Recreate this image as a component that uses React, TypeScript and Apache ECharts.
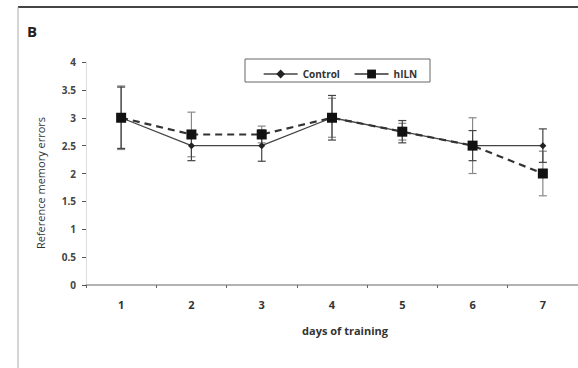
import React, { useEffect, useRef } from "react";
import * as echarts from "echarts";

const days = ["1", "2", "3", "4", "5", "6", "7"];
const controlValues = [3.0, 2.5, 2.5, 3.0, 2.75, 2.5, 2.5];
const hilnValues = [3.0, 2.7, 2.7, 3.0, 2.75, 2.5, 2.0];
const controlErr = [0.55, 0.27, 0.28, 0.4, 0.2, 0.27, 0.3];
const hilnErr = [0.57, 0.4, 0.15, 0.35, 0.15, 0.5, 0.4];
const yTicks = [0, 0.5, 1, 1.5, 2, 2.5, 3, 3.5, 4];

const FONT = "'Open Sans', 'Liberation Sans', sans-serif";

function errData(vals: number[], errs: number[]) {
  return vals.map((v, i) => [i, v - errs[i], v + errs[i]]);
}

function errSeries(name: string, vals: number[], errs: number[], color: string) {
  return {
    type: "custom",
    name: name + " err",
    data: errData(vals, errs),
    encode: { x: 0, y: [1, 2] },
    z: 1,
    silent: true,
    renderItem: (params: any, api: any) => {
      const x = api.value(0);
      const lo = api.coord([x, api.value(1)]);
      const hi = api.coord([x, api.value(2)]);
      const cw = 4;
      const style = { stroke: color, lineWidth: 1.2 };
      return {
        type: "group",
        children: [
          { type: "line", shape: { x1: lo[0], y1: lo[1], x2: hi[0], y2: hi[1] }, style },
          { type: "line", shape: { x1: lo[0] - cw, y1: lo[1], x2: lo[0] + cw, y2: lo[1] }, style },
          { type: "line", shape: { x1: hi[0] - cw, y1: hi[1], x2: hi[0] + cw, y2: hi[1] }, style },
        ],
      };
    },
  };
}

export default function App() {
  const ref = useRef<HTMLDivElement>(null);
  useEffect(() => {
    if (!ref.current) return;
    const chart = echarts.init(ref.current, null, { renderer: "svg" });
    chart.setOption({
      animation: false,
      backgroundColor: "#ffffff",
      textStyle: { fontFamily: FONT },
      grid: { left: 86, right: -4, top: 62, bottom: 83, containLabel: false },
      legend: {
        left: 258,
        top: 64,
        itemWidth: 34,
        itemHeight: 11,
        itemGap: 14,
        textStyle: { fontSize: 10, fontWeight: "bold", color: "#333", fontFamily: FONT },
        data: [
          { name: "Control", lineStyle: { type: "solid", width: 1.3 } },
          { name: "hILN", lineStyle: { type: "solid", width: 1.3 } },
        ],
      },
      xAxis: {
        type: "category",
        data: days,
        boundaryGap: true,
        axisLine: { lineStyle: { color: "#999", width: 1.5 } },
        axisTick: { show: true, length: 3, lineStyle: { color: "#666" } },
        axisLabel: { fontSize: 11, fontWeight: "bold", color: "#333", margin: 14, fontFamily: FONT },
      },
      yAxis: {
        type: "value",
        min: 0,
        max: 4,
        interval: 0.5,
        splitLine: { show: false },
        axisLine: { show: true, lineStyle: { color: "#ddd", width: 1 } },
        axisTick: { show: true, length: 4, lineStyle: { color: "#555" } },
        axisLabel: {
          fontSize: 10,
          fontWeight: "bold",
          color: "#444",
          margin: 10,
          fontFamily: FONT,
          formatter: (v: number) => (yTicks.includes(v) ? String(v) : ""),
        },
      },
      series: [
        errSeries("hILN", hilnValues, hilnErr, "#888"),
        errSeries("Control", controlValues, controlErr, "#444"),
        {
          name: "Control",
          type: "line",
          data: controlValues,
          symbol: "diamond",
          symbolSize: 7,
          z: 3,
          itemStyle: { color: "#222" },
          lineStyle: { color: "#444", width: 1.3 },
        },
        {
          name: "hILN",
          type: "line",
          data: hilnValues,
          symbol: "rect",
          symbolSize: 10,
          z: 4,
          itemStyle: { color: "#111" },
          lineStyle: { color: "#333", width: 2.2, type: [7, 5] },
        },
      ],
      graphic: [
        { type: "line", shape: { x1: 18, y1: 7, x2: 578, y2: 7 }, style: { stroke: "#444", lineWidth: 2 } },
        { type: "line", shape: { x1: 18, y1: 7, x2: 18, y2: 368 }, style: { stroke: "#aaa", lineWidth: 1 } },
        {
          type: "text",
          left: 27,
          top: 23,
          style: { text: "B", fontSize: 15, fontWeight: "bold", fill: "#222", fontFamily: FONT },
        },
        {
          type: "rect",
          shape: { x: 245, y: 59, width: 185, height: 23 },
          style: { fill: "none", stroke: "#666", lineWidth: 1 },
        },
        {
          type: "text",
          x: 40,
          y: 183,
          rotation: Math.PI / 2,
          style: {
            text: "Reference memory errors",
            fontSize: 11,
            fill: "#333",
            fontFamily: FONT,
            align: "center",
            verticalAlign: "middle",
          },
        },
        {
          type: "text",
          x: 345,
          y: 330,
          style: {
            text: "days of training",
            fontSize: 11,
            fontWeight: "bold",
            fill: "#333",
            fontFamily: FONT,
            align: "center",
            verticalAlign: "middle",
          },
        },
      ],
    });
    return () => chart.dispose();
  }, []);
  return <div ref={ref} style={{ width: 578, height: 368, position: "absolute", left: 0, top: 0 }} />;
}
